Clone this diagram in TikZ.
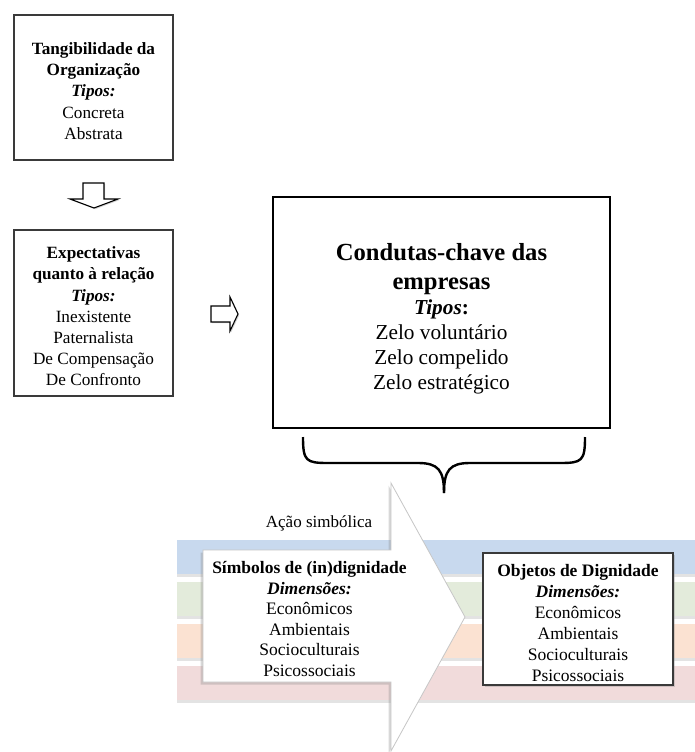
\documentclass[tikz,border=0pt]{standalone}
\usepackage{fontspec}
\setmainfont{Liberation Serif}
\usetikzlibrary{shadows}

\definecolor{bandblue}{HTML}{C8D9EE}
\definecolor{bandgreen}{HTML}{E3EBDB}
\definecolor{bandorange}{HTML}{FBE2D2}
\definecolor{bandpink}{HTML}{F1DBDB}
\definecolor{boxline}{HTML}{3A3A3A}

\tikzset{
  plainbox/.style={draw=boxline, line width=1.3pt, fill=white, align=center, inner sep=0pt},
  bigbox/.style={draw=black, line width=2.2pt, fill=white, inner sep=0pt},
  blockarrow/.style={draw=black, line width=1.1pt, fill=white,
    drop shadow={opacity=0.35, shadow xshift=1.2pt, shadow yshift=-1.2pt}},
  band/.style={draw=none, drop shadow={opacity=0.22, shadow xshift=0pt, shadow yshift=-2.5pt}},
  txt/.style={align=center, inner sep=0pt},
}

\begin{document}
\begin{tikzpicture}[x=1pt, y=-1pt]
\useasboundingbox[fill=white] (0,0) rectangle (695,752);

% first box: tangibility of the organisation
\node[plainbox, minimum width=159pt, minimum height=145pt] (tang) at (93.5,87.5) {};
\node[txt, font=\fontsize{17.2}{21.2}\selectfont] (tangtxt) at (93.5,91)
  {\textbf{Tangibilidade da}\\\textbf{Organização}\\\textbf{\textit{Tipos:}}\\Concreta\\Abstrata};

% down arrow between the two left boxes
\path[blockarrow] (83,183) -- (104,183) -- (104,199) -- (118,199) -- (94,208)
  -- (70,199) -- (83,199) -- cycle;

% second box: expectations about the relation
\node[plainbox, minimum width=159pt, minimum height=166pt] (expec) at (93.5,313) {};
\node[txt, font=\fontsize{17.2}{21.2}\selectfont] (expectxt) at (93.5,316.5)
  {\textbf{Expectativas}\\\textbf{quanto à relação}\\\textbf{\textit{Tipos:}}\\Inexistente\\Paternalista\\De Compensação\\De Confronto};

% right arrow towards the key conduct box
\path[blockarrow] (211,306) -- (230,306) -- (230,297) -- (238,314) -- (230,331)
  -- (230,322) -- (211,322) -- cycle;

% key conduct box
\node[bigbox, minimum width=337pt, minimum height=231pt] (cond) at (441.5,312.5) {};
\node[txt, font=\fontsize{21.3}{25}\selectfont] (condtxt) at (441.5,319)
  {{\fontsize{24.6}{28}\selectfont\bfseries Condutas-chave das}\\[4pt]%
   {\fontsize{24.6}{28}\selectfont\bfseries empresas}\\%
   {\bfseries\itshape Tipos}\textbf{:}\\Zelo voluntário\\Zelo compelido\\Zelo estratégico};

% curly brace under the key conduct box
\draw[line width=2.4pt, line join=round]
  (303,437) .. controls (303,461) and (306,463) .. (328,463) -- (418,463)
  .. controls (438,463) and (444,470) .. (444,493);
\draw[line width=2.4pt, line join=round]
  (585,437) .. controls (585,461) and (582,463) .. (560,463) -- (470,463)
  .. controls (450,463) and (444,470) .. (444,493);

% coloured bands
\path[band, fill=bandblue]   (177,540) rectangle (695,574);
\path[band, fill=bandgreen]  (177,582) rectangle (695,616);
\path[band, fill=bandorange] (177,624) rectangle (695,658);
\path[band, fill=bandpink]   (177,666) rectangle (695,700);

% large arrow carrying the symbols of (in)dignity
\path[draw=gray!45, line width=0.8pt, fill=white,
      drop shadow={opacity=0.3, shadow xshift=-2.5pt, shadow yshift=-2.5pt}]
  (203,550) -- (391,550) -- (391,483) -- (465,617) -- (391,751) -- (391,682)
  -- (203,682) -- cycle;

\node[txt, font=\fontsize{17}{20}\selectfont] (acao) at (319,523) {Ação simbólica};

\node[txt, font=\fontsize{17.5}{20.6}\selectfont] (simb) at (309.5,619)
  {\textbf{Símbolos de (in)dignidade}\\\textbf{\textit{Dimensões:}}\\Econômicos\\Ambientais\\Socioculturais\\Psicossociais};

% box of the objects of dignity
\node[plainbox, minimum width=190pt, minimum height=132pt,
      drop shadow={opacity=0.3, shadow xshift=1.5pt, shadow yshift=-1.5pt}] (obj) at (578,619) {};
\node[txt, font=\fontsize{17.5}{21}\selectfont] (objtxt) at (578,623)
  {\textbf{Objetos de Dignidade}\\\textbf{\textit{Dimensões:}}\\Econômicos\\Ambientais\\Socioculturais\\Psicossociais};
\end{tikzpicture}
\end{document}
